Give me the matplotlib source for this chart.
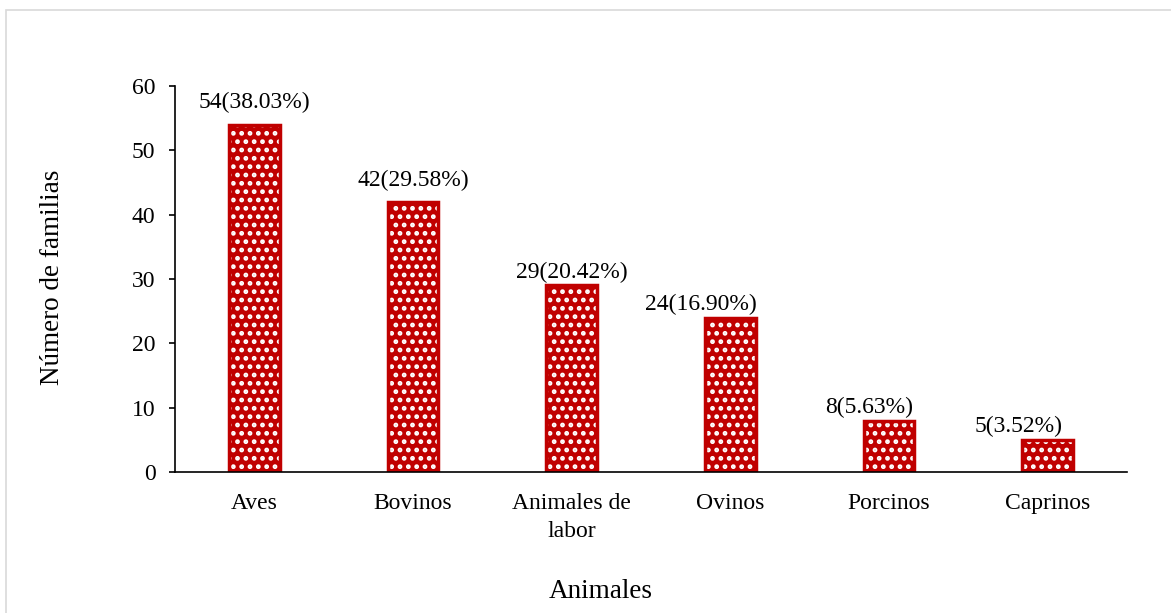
import matplotlib.pyplot as plt
from matplotlib.patches import Rectangle

# Data
animales = ["Aves", "Bovinos", "Animales de\nlabor", "Ovinos", "Porcinos", "Caprinos"]
familias = [54, 42, 29, 24, 8, 5]
etiquetas = ["54(38.03%)", "42(29.58%)", "29(20.42%)", "24(16.90%)", "8(5.63%)", "5(3.52%)"]
yticks = [0, 10, 20, 30, 40, 50, 60]

plt.rcParams["font.family"] = ["Liberation Serif", "DejaVu Serif"]
plt.rcParams["hatch.linewidth"] = 2.2

rojo = "#C00000"
fs = 17
fs_lab = 19.5

fig = plt.figure(figsize=(11.71, 6.13), dpi=100)
ax = fig.add_axes([175 / 1171, 1 - 472 / 613, 952 / 1171, 386 / 613])

x = range(len(animales))
# fill with white dot pattern, then red outline on top
ax.bar(x, familias, width=0.32, color=rojo, edgecolor="white", hatch="..", linewidth=0)
ax.bar(x, familias, width=0.32, fill=False, edgecolor=rojo, linewidth=2.5)

# the labels were nudged by hand in the original (points)
desplaz = [(0, 8), (0, 8), (0, 2), (-21, 2), (-14, 2), (-21, 2)]
for xi, v, t, d in zip(x, familias, etiquetas, desplaz):
    ax.annotate(t, (xi, v), xytext=d, textcoords="offset points",
                ha="center", va="bottom", fontsize=fs)

ax.set_xlim(-0.5, 5.5)
ax.set_ylim(0, 60)
ax.set_yticks(yticks)
ax.set_xticks(list(x))
ax.set_xticklabels(animales, fontsize=fs, linespacing=1.45)
ax.tick_params(axis="x", length=0, pad=15)
ax.tick_params(axis="y", length=4, width=1.2, pad=10, labelsize=fs, direction="out")

for s in ["top", "right"]:
    ax.spines[s].set_visible(False)
for s in ["left", "bottom"]:
    ax.spines[s].set_linewidth(1.2)

fig.text(53 / 1171, 1 - 277 / 613, "Número de familias", rotation=90,
         ha="center", va="center", fontsize=fs_lab)
fig.text(601 / 1171, 1 - 592 / 613, "Animales", ha="center", va="center", fontsize=fs_lab)

# light grey frame of the chart area
fig.patches.append(Rectangle((6 / 1171, -0.1), 1.2, 1 - 10 / 613 + 0.1,
                             transform=fig.transFigure, fill=False,
                             edgecolor="#D9D9D9", linewidth=1.2))

fig.savefig("out.png", dpi=100)
